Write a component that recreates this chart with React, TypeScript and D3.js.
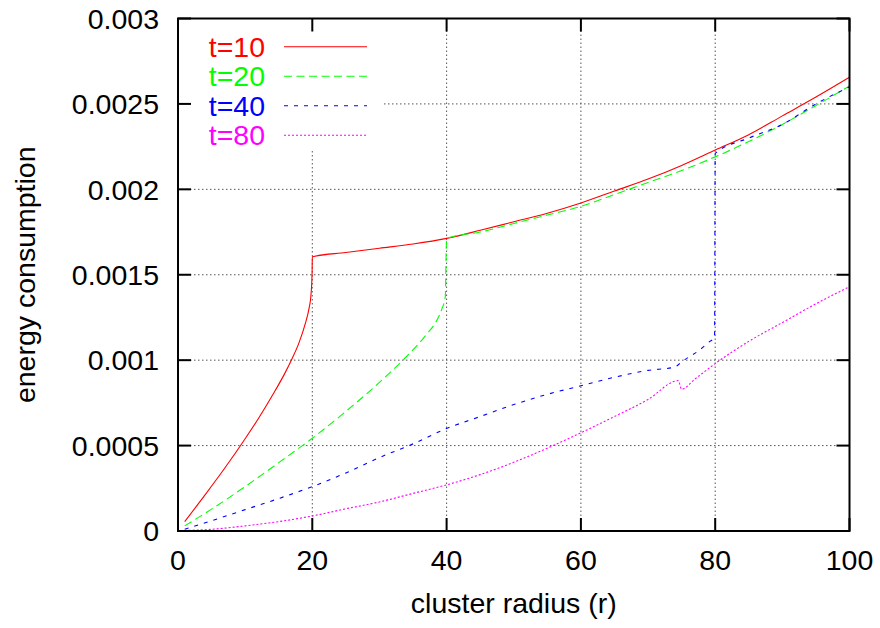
import React from "react";
import * as d3 from "d3";

const xTicks = [0, 20, 40, 60, 80, 100];
const yTicks = [0, 0.0005, 0.001, 0.0015, 0.002, 0.0025, 0.003];
const yTickLabels = ["0", "0.0005", "0.001", "0.0015", "0.002", "0.0025", "0.003"];

const seriesNames = ["t=10", "t=20", "t=40", "t=80"];
const seriesColors = ["#ff0000", "#00ff00", "#0000ff", "#ff00ff"];
const seriesDash = ["none", "8,4.5", "4,6", "2,2"];

const t10: [number, number][] = [
  [1, 0.000055], [4, 0.00021], [7, 0.00037], [10, 0.00054], [12, 0.00066],
  [14, 0.00079], [16, 0.00093], [17, 0.00101], [18, 0.0011], [19, 0.00122],
  [19.5, 0.0013], [19.8, 0.00138], [19.97, 0.00151],
  [20, 0.001605], [25, 0.00163], [30, 0.001655], [35, 0.00168], [40, 0.001713],
  [45, 0.00176], [50, 0.00181], [55, 0.00186], [60, 0.00192], [65, 0.00199],
  [70, 0.00206], [75, 0.00214], [80, 0.00223], [85, 0.00232], [90, 0.00243],
  [95, 0.00254], [100, 0.002656],
];

const t20: [number, number][] = [
  [1, 0.00003], [5, 0.000128], [10, 0.00026], [15, 0.0004], [20, 0.000543],
  [25, 0.0007], [30, 0.00087], [34, 0.00102], [37, 0.00115], [38.5, 0.00123],
  [39.3, 0.0013], [39.8, 0.00137], [40, 0.001713], [45, 0.00175], [50, 0.0018],
  [55, 0.00185], [60, 0.0019], [65, 0.00197], [70, 0.00204], [75, 0.00211],
  [80, 0.00219], [85, 0.00228], [90, 0.00238], [95, 0.00249], [100, 0.002605],
];

const t40: [number, number][] = [
  [1, 0.00001], [5, 0.00006], [10, 0.000125], [15, 0.00019], [20, 0.00026],
  [25, 0.00034], [30, 0.00043], [35, 0.00051], [40, 0.0006], [45, 0.00067],
  [50, 0.00074], [55, 0.0008], [60, 0.00085], [65, 0.0009], [70, 0.00094],
  [74, 0.00096], [75, 0.00099], [77.7, 0.00106], [79.2, 0.00111], [79.9, 0.00113],
  [80, 0.00221], [85, 0.0023], [90, 0.00238], [95, 0.0025], [100, 0.0026],
];

const t80: [number, number][] = [
  [1, 0.000003], [5, 0.00001], [10, 0.00003], [15, 0.000055], [20, 0.000088],
  [25, 0.00013], [30, 0.00017], [35, 0.00022], [40, 0.00027], [45, 0.00033],
  [50, 0.000402], [55, 0.000485], [60, 0.000575], [65, 0.00067], [70, 0.00077],
  [74.5, 0.00088], [75, 0.00083], [77, 0.00089], [80, 0.00098], [85, 0.00111],
  [90, 0.00122], [95, 0.00133], [100, 0.00143],
];

const seriesData = [t10, t20, t40, t80];

const W = 880;
const H = 628;
const L = 178;
const R = 849.5;
const T = 18.5;
const B = 531;
const keyRight = 384;
const keyBottom = 151;
const FONT = "'Liberation Sans', Arial, sans-serif";
const FS = 28.5;

export default function App() {
  const x = d3.scaleLinear().domain([0, 100]).range([L, R]);
  const y = d3.scaleLinear().domain([0, 0.003]).range([B, T]);
  const line = d3
    .line<[number, number]>()
    .x((d) => x(d[0]))
    .y((d) => y(d[1]))
    .curve(d3.curveMonotoneX);

  const tickLen = 13;
  const gridColor = "#555";

  return (
    <svg
      width={W}
      height={H}
      viewBox={`0 0 ${W} ${H}`}
      style={{ position: "absolute", left: 0, top: 0, background: "#fff" }}
    >
      <rect x={0} y={0} width={W} height={H} fill="#fff" />
      {/* grid */}
      <g stroke={gridColor} strokeWidth={1} strokeDasharray="1.5,2.5">
        {xTicks
          .filter((t) => t > 0 && t < 100)
          .map((t) => {
            const px = x(t);
            const y0 = px < keyRight ? keyBottom : T;
            return <line key={"gx" + t} x1={px} x2={px} y1={y0} y2={B} />;
          })}
        {yTicks
          .filter((t) => t > 0 && t < 0.003)
          .map((t) => {
            const py = y(t);
            const x0 = py < keyBottom ? keyRight : L;
            return <line key={"gy" + t} x1={x0} x2={R} y1={py} y2={py} />;
          })}
      </g>
      {/* ticks */}
      <g stroke="#000" strokeWidth={2}>
        {xTicks.map((t) => (
          <g key={"tx" + t}>
            <line x1={x(t)} x2={x(t)} y1={B} y2={B - tickLen} />
            <line x1={x(t)} x2={x(t)} y1={T} y2={T + tickLen} />
          </g>
        ))}
        {yTicks.map((t) => (
          <g key={"ty" + t}>
            <line x1={L} x2={L + tickLen} y1={y(t)} y2={y(t)} />
            <line x1={R} x2={R - tickLen} y1={y(t)} y2={y(t)} />
          </g>
        ))}
      </g>
      {/* series */}
      <g fill="none" strokeWidth={1.1}>
        {seriesData.map((d, i) => (
          <path
            key={"s" + i}
            d={line(d) || ""}
            stroke={seriesColors[i]}
            strokeDasharray={seriesDash[i]}
          />
        ))}
      </g>
      {/* frame */}
      <rect x={L} y={T} width={R - L} height={B - T} fill="none" stroke="#000" strokeWidth={2} />
      {/* tick labels */}
      <g fontFamily={FONT} fontSize={FS} fill="#000">
        {xTicks.map((t) => (
          <text key={"lx" + t} x={x(t)} y={569.5} textAnchor="middle">
            {t}
          </text>
        ))}
        {yTicks.map((t, i) => (
          <text key={"ly" + t} x={159} y={y(t) + 10.3} textAnchor="end">
            {yTickLabels[i]}
          </text>
        ))}
        <text x={(L + R) / 2} y={613} textAnchor="middle">
          cluster radius (r)
        </text>
        <text
          transform={`translate(35, ${(T + B) / 2}) rotate(-90)`}
          textAnchor="middle"
        >
          energy consumption
        </text>
      </g>
      {/* legend */}
      <g fontFamily={FONT} fontSize={FS}>
        {seriesNames.map((n, i) => {
          const cy = 46.2 + i * 29.5;
          return (
            <g key={"k" + i}>
              <text x={265} y={cy + 10.3} textAnchor="end" fill={seriesColors[i]}>
                {n}
              </text>
              <line
                x1={284}
                x2={367}
                y1={cy + 0.5}
                y2={cy + 0.5}
                stroke={seriesColors[i]}
                strokeWidth={1.1}
                strokeDasharray={seriesDash[i]}
              />
            </g>
          );
        })}
      </g>
    </svg>
  );
}
